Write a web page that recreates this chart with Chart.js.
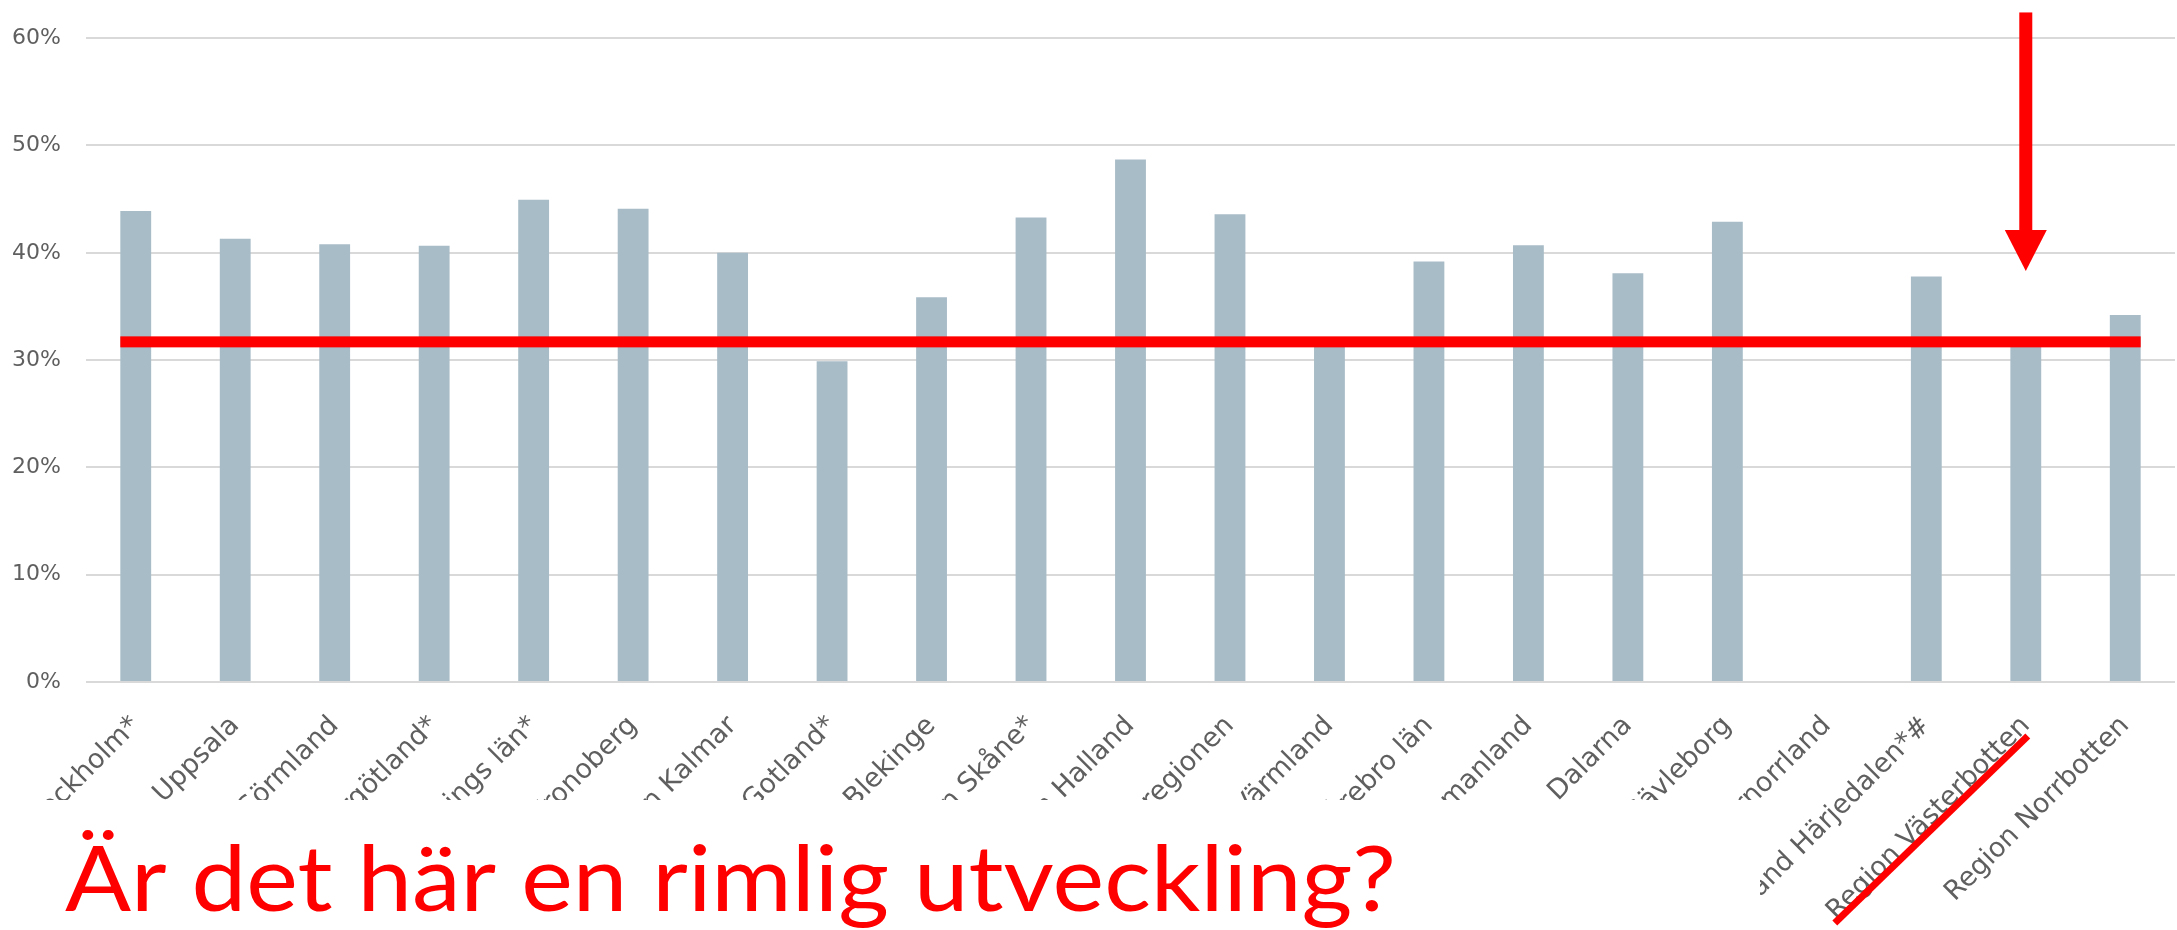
<!DOCTYPE html>
<html><head><meta charset="utf-8">
<script src="https://cdn.jsdelivr.net/npm/chart.js@4.4.1/dist/chart.umd.min.js"></script>
<style>html,body{margin:0;padding:0;background:#fff;overflow:hidden}canvas{display:block}</style>
</head><body>
<canvas id="c" width="2177" height="930"></canvas>
<script>
const categories = ['Region Stockholm*','Region Uppsala','Region Sörmland','Region Östergötland*','Region Jönköpings län*','Region Kronoberg','Region Kalmar','Region Gotland*','Region Blekinge','Region Skåne*','Region Halland','Västra Götalandsregionen','Region Värmland','Region Örebro län','Region Västmanland','Region Dalarna','Region Gävleborg','Region Västernorrland','Region Jämtland Härjedalen*#','Region Västerbotten','Region Norrbotten'];
const shares = [43.9, 41.3, 40.8, 40.65, 44.95, 44.1, 40.0, 29.9, 35.85, 43.3, 48.7, 43.6, 31.5, 39.2, 40.7, 38.1, 42.9, null, 37.8, 31.5, 34.2];
const yTickValues = [0, 10, 20, 30, 40, 50, 60];
const referenceLevel = 31.7;
const highlightIndex = 19;
const arrowStart = 62.4;
const arrowEnd = 38.3;
const headline = 'Är det här en rimlig utveckling?';

const labelFont = "'DejaVu Sans', sans-serif";
const grey = '#5f5f5f';
const red = '#ff0000';

const overlay = {
  id: 'overlay',
  afterDraw(chart) {
    const ctx = chart.ctx, xs = chart.scales.x, ys = chart.scales.y, area = chart.chartArea;
    const meta = chart.getDatasetMeta(0);
    const first = meta.data[0], last = meta.data[meta.data.length - 1];
    ctx.save();
    const yRef = ys.getPixelForValue(referenceLevel);
    ctx.fillStyle = red;
    const x0 = first.x - first.width / 2, x1 = last.x + last.width / 2;
    ctx.fillRect(x0, yRef - 5.5, x1 - x0, 11);
    const ax = xs.getPixelForValue(highlightIndex);
    const yA = ys.getPixelForValue(arrowStart), yB = ys.getPixelForValue(arrowEnd);
    const headLen = 41;
    ctx.fillRect(ax - 6.5, yA, 13, (yB - headLen) - yA);
    ctx.beginPath();
    ctx.moveTo(ax - 21, yB - headLen);
    ctx.lineTo(ax + 21, yB - headLen);
    ctx.lineTo(ax, yB);
    ctx.closePath();
    ctx.fill();
    ctx.fillStyle = '#ffffff';
    ctx.fillRect(0, 800, 1760, 130);
    ctx.fillStyle = red;
    ctx.font = "92px Lato, 'Open Sans', sans-serif";
    ctx.textBaseline = 'alphabetic';
    const w = ctx.measureText(headline).width;
    ctx.translate(65, 911);
    ctx.scale(1331 / w, 1);
    ctx.fillText(headline, 0, 0);
    ctx.restore();
    ctx.save();
    ctx.strokeStyle = red;
    ctx.lineWidth = 7;
    ctx.beginPath();
    ctx.moveTo(ax + 2, area.bottom + 54);
    ctx.lineTo(ax - 191, area.bottom + 241);
    ctx.stroke();
    ctx.restore();
  }
};

new Chart(document.getElementById('c'), {
  type: 'bar',
  data: {
    labels: categories,
    datasets: [{
      data: shares,
      backgroundColor: '#a8bcc7',
      borderWidth: 0,
      barPercentage: 0.31,
      categoryPercentage: 1.0
    }]
  },
  options: {
    responsive: false,
    animation: false,
    devicePixelRatio: 1,
    layout: { padding: { top: 36, right: 2, left: 0, bottom: 0 } },
    plugins: { legend: { display: false }, tooltip: { enabled: false } },
    scales: {
      x: {
        grid: { display: false, drawTicks: false },
        border: { display: false },
        ticks: {
          autoSkip: false, minRotation: 45, maxRotation: 45,
          color: grey, padding: 28,
          font: { family: labelFont, size: 27 }
        },
        afterFit(s) { s.height = 248; s.paddingLeft = 0; s.paddingRight = 0; }
      },
      y: {
        min: 0, max: 60,
        afterBuildTicks(s) { s.ticks = yTickValues.map(v => ({ value: v })); },
        grid: { color: '#d9d9d9', lineWidth: 2, drawTicks: false },
        border: { display: false },
        ticks: {
          color: grey, padding: 25,
          font: { family: labelFont, size: 22 },
          callback: v => v + '%'
        },
        afterFit(s) { s.width = 86; }
      }
    }
  },
  plugins: [overlay]
});
</script>
</body></html>
